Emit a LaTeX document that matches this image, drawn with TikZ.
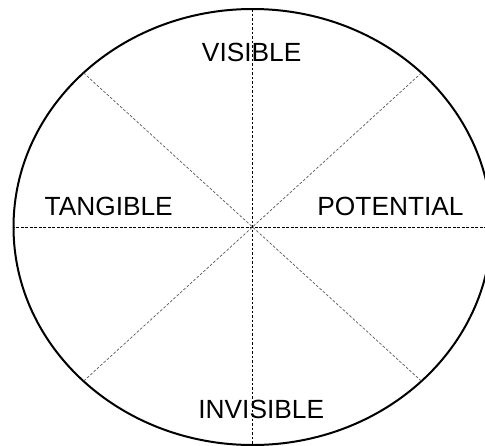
\documentclass[tikz,border=0pt]{standalone}
\usepackage{fontspec}
\setmainfont{Liberation Sans}
\usetikzlibrary{calc}
\begin{document}
\begin{tikzpicture}[x=1pt,y=1pt,
  rim/.style={line width=2pt,black},
  axisline/.style={line width=0.8pt,black,dash pattern=on 2.7pt off 1.8pt},
  diagline/.style={line width=0.7pt,black!65,dash pattern=on 2.7pt off 1.8pt},
  lab/.style={anchor=base,inner sep=0pt,font=\fontsize{26.3}{30}\selectfont}]
\useasboundingbox (0,0) rectangle (485,-445);
\coordinate (c) at (252.5,-227);
\foreach \k in {0,1,...,7}{
  \coordinate (e\k) at ($(c)+(\k*45:239 and 218)$);
}
\draw[rim] (c) ellipse [x radius=239, y radius=218];
\draw[axisline] (e0) -- (e4);
\draw[axisline] (e2) -- (e6);
\draw[diagline] (e1) -- (e5);
\draw[diagline] (e3) -- (e7);
\node[lab] (vis) at (251.7,-61.7) {VISIBLE};
\node[lab] (tan) at (108.7,-215) {TANGIBLE};
\node[lab] (pot) at (390.5,-215) {POTENTIAL};
\node[lab] (inv) at (261.2,-418.3) {INVISIBLE};
\end{tikzpicture}
\end{document}
